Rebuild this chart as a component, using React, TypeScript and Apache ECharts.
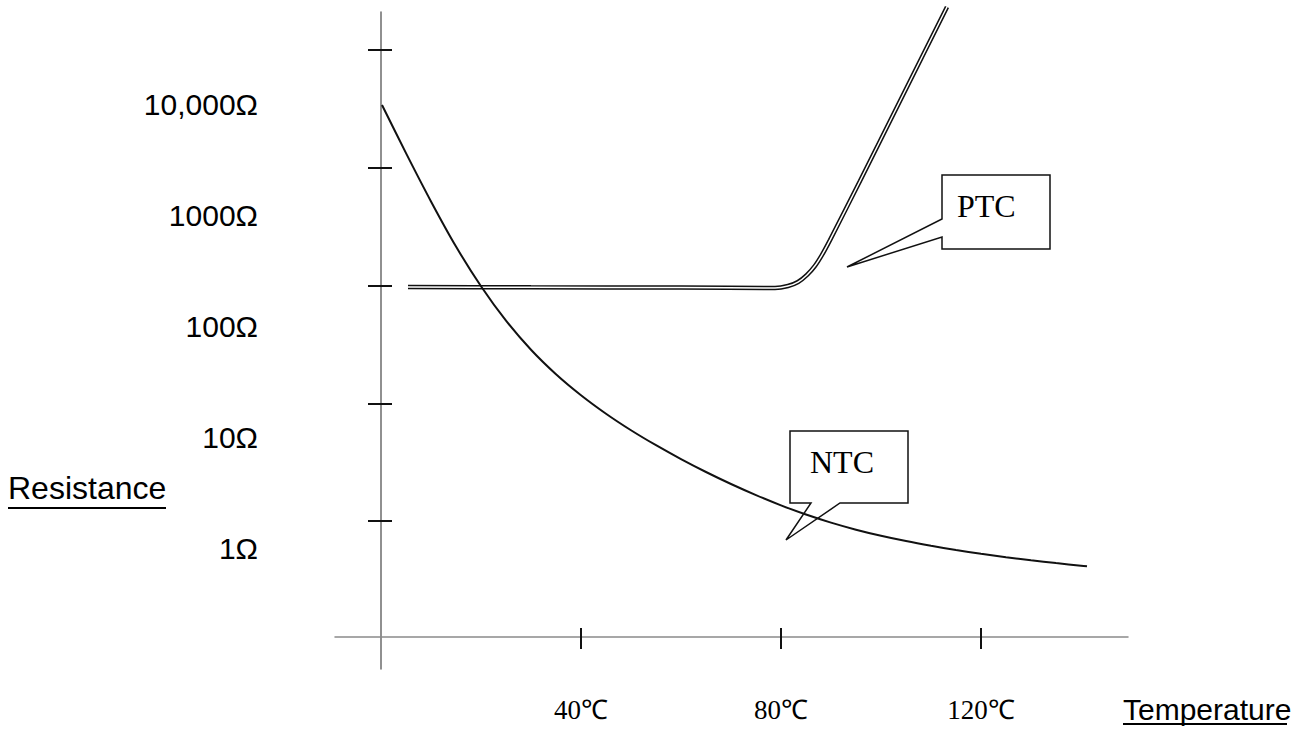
import { useEffect, useRef } from "react";
import * as echarts from "echarts";

// NTC thermistor: temperature (°C) and resistance (Ω)
const NTC_TEMP = [0.2, 5, 10, 15, 20, 25, 30, 35, 40, 45, 50, 55, 60, 65, 70, 75, 80, 85, 90, 95, 100, 105, 110, 115, 120, 125, 130, 135, 140, 141.2];
const NTC_OHMS = [3411, 1332, 518, 214.4, 98.6, 50.3, 28.5, 17.65, 11.7, 8.15, 5.9, 4.4, 3.355, 2.607, 2.062, 1.66, 1.359, 1.135, 0.969, 0.844, 0.749, 0.675, 0.616, 0.567, 0.527, 0.493, 0.464, 0.439, 0.417, 0.412];

// PTC thermistor: temperature (°C) and resistance (Ω)
const PTC_TEMP = [5.4, 30, 60, 78.8, 81.4, 83.4, 85.2, 86.8, 88.2, 89.8, 95.8, 103.8, 113.2];
const PTC_OHMS = [97, 96.5, 96, 95.2, 99, 107, 123, 147, 182, 243, 772, 3690, 23200];

const TEMP_TICKS = [40, 80, 120];
const DECADE_TICKS = [0, 1, 2, 3, 4]; // log10(Ω)
const RES_LABELS = ["1Ω", "10Ω", "100Ω", "1000Ω", "10,000Ω"];

export default function App() {
  const ref = useRef<HTMLDivElement>(null);

  useEffect(() => {
    document.body.style.margin = "0";
    document.body.style.overflow = "hidden";
    const chart = echarts.init(ref.current!, undefined, { renderer: "svg" });
    const toPts = (t: number[], r: number[]) => t.map((v, i) => [v, Math.log10(r[i])]);
    const ntc = toPts(NTC_TEMP, NTC_OHMS);
    const ptc = toPts(PTC_TEMP, PTC_OHMS);
    const tickStyle = { color: "#111", width: 2 };
    const yMin = -1.257;
    const yMax = 4.323;
    const xMin = -9.2;
    const xMax = 149.4;

    chart.setOption({
      animation: false,
      backgroundColor: "#fff",
      grid: { left: 335, right: 165, top: 12, bottom: 60 },
      xAxis: [
        {
          type: "value",
          min: xMin,
          max: xMax,
          position: "bottom",
          offset: -32,
          axisLine: { show: true, onZero: false, lineStyle: { color: "#8a8a8a", width: 1.5 } },
          axisTick: { show: true, customValues: TEMP_TICKS, length: 12, lineStyle: tickStyle },
          axisLabel: {
            show: true,
            customValues: TEMP_TICKS,
            formatter: "{value}℃",
            margin: 59,
            color: "#000",
            fontFamily: "Liberation Serif",
            fontSize: 27,
          },
          splitLine: { show: false },
        },
        {
          type: "value",
          min: xMin,
          max: xMax,
          position: "top",
          offset: -625,
          axisLine: { show: false, onZero: false },
          axisTick: { show: true, customValues: TEMP_TICKS, length: 9, lineStyle: tickStyle },
          axisLabel: { show: false },
          splitLine: { show: false },
        },
      ],
      yAxis: [
        {
          type: "value",
          min: yMin,
          max: yMax,
          position: "left",
          axisLine: { show: true, onZero: true, onZeroAxisIndex: 0, lineStyle: { color: "#6b6b6b", width: 1.5 } },
          axisTick: { show: true, customValues: DECADE_TICKS, length: 13, lineStyle: tickStyle },
          axisLabel: { show: false },
          splitLine: { show: false },
        },
        {
          type: "value",
          min: yMin,
          max: yMax,
          position: "right",
          axisLine: { show: false, onZero: true, onZeroAxisIndex: 0 },
          axisTick: { show: true, customValues: DECADE_TICKS, length: 11, lineStyle: tickStyle },
          axisLabel: { show: false },
          splitLine: { show: false },
        },
        {
          type: "value",
          min: -1.09,
          max: 4.829,
          position: "left",
          axisLine: { show: false, onZero: false },
          axisTick: { show: false },
          axisLabel: {
            show: true,
            customValues: DECADE_TICKS,
            formatter: (v: number) => RES_LABELS[Math.round(v)] ?? "",
            margin: 77,
            color: "#000",
            fontFamily: "Liberation Sans",
            fontSize: 30,
          },
          splitLine: { show: false },
        },
      ],
      series: [
        {
          name: "PTC",
          type: "line",
          data: ptc,
          showSymbol: false,
          smooth: 0.25,
          clip: false,
          lineStyle: { color: "#111", width: 4.5 },
          z: 2,
        },
        {
          name: "PTC-inner",
          type: "line",
          data: ptc,
          showSymbol: false,
          smooth: 0.25,
          clip: false,
          lineStyle: { color: "#fff", width: 1.5 },
          z: 3,
        },
        {
          name: "NTC",
          type: "line",
          data: ntc,
          showSymbol: false,
          smooth: 0.3,
          clip: false,
          lineStyle: { color: "#111", width: 2 },
          z: 4,
        },
      ],
      graphic: [
        {
          type: "text",
          left: 8,
          top: 472,
          style: { text: "Resistance", fill: "#000", font: "32px 'Liberation Sans'" },
        },
        { type: "line", shape: { x1: 8, y1: 508, x2: 166, y2: 508 }, style: { stroke: "#000", lineWidth: 2 } },
        {
          type: "text",
          left: 1123,
          top: 694,
          style: { text: "Temperature", fill: "#000", font: "30px 'Liberation Sans'" },
        },
        { type: "line", shape: { x1: 1123, y1: 724, x2: 1287, y2: 724 }, style: { stroke: "#000", lineWidth: 2 } },
        {
          type: "polygon",
          shape: {
            points: [[942, 175], [1050, 175], [1050, 249], [942, 249], [942, 237], [847, 267], [942, 219]],
          },
          style: { fill: "rgba(255,255,255,0)", stroke: "#111", lineWidth: 1.5 },
          z: 10,
        },
        {
          type: "text",
          x: 957,
          y: 206,
          style: { text: "PTC", fill: "#000", font: "32px 'Liberation Serif'", textVerticalAlign: "middle" },
          z: 10,
        },
        {
          type: "polygon",
          shape: {
            points: [[790, 431], [908, 431], [908, 503], [840, 503], [786, 540], [811, 503], [790, 503]],
          },
          style: { fill: "rgba(255,255,255,0)", stroke: "#111", lineWidth: 1.5 },
          z: 10,
        },
        {
          type: "text",
          x: 810,
          y: 462,
          style: { text: "NTC", fill: "#000", font: "32px 'Liberation Serif'", textVerticalAlign: "middle" },
          z: 10,
        },
      ],
    });

    return () => chart.dispose();
  }, []);

  return <div ref={ref} style={{ width: 1293, height: 729 }} />;
}
